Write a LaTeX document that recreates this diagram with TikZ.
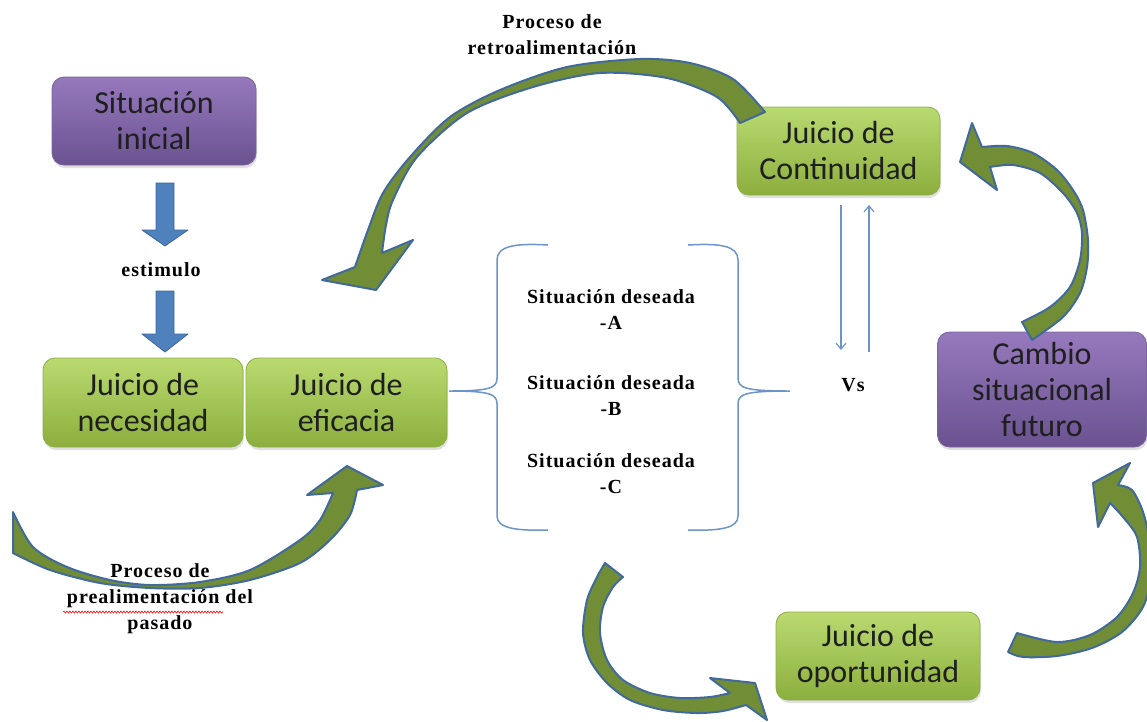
\documentclass[tikz,border=0pt]{standalone}
\usepackage{fontspec}
\newfontfamily\boxfont{Carlito}
\newfontfamily\labfont[LetterSpace=5]{Liberation Serif}
\usetikzlibrary{shadows,arrows.meta,decorations.pathmorphing}
\definecolor{gtop}{HTML}{BADA70}
\definecolor{gbot}{HTML}{8BAF3E}
\definecolor{gline}{HTML}{8DAE47}
\definecolor{ptop}{HTML}{9679BD}
\definecolor{pbot}{HTML}{6A5290}
\definecolor{arrfill}{HTML}{718D36}
\definecolor{arrline}{HTML}{41699B}
\definecolor{bluef}{HTML}{4F81BD}
\definecolor{bluel}{HTML}{3C6798}
\definecolor{thinb}{HTML}{6C94C8}
\tikzset{
  jbox/.style={rounded corners=12pt, draw=gline, line width=0.8pt,
    top color=gtop, bottom color=gbot, align=center,
    font=\boxfont\fontsize{32}{36}\selectfont, text=black!88, inner sep=0pt,
    drop shadow={opacity=0.25, shadow xshift=1pt, shadow yshift=-3pt}},
  pbox/.style={jbox, draw=pbot!90, top color=ptop, bottom color=pbot},
  lab/.style={font=\labfont\bfseries\fontsize{20}{26}\selectfont, align=center, inner sep=0pt},
  curvarr/.style={fill=arrfill, draw=arrline, line width=2pt, line join=round},
  bluearr/.style={fill=bluef, draw=bluel, line width=0.8pt, line join=round},
  thinarr/.style={draw=thinb, line width=1.2pt, -{Straight Barb[length=6pt,width=10pt]}},
  bracestyle/.style={draw=thinb, line width=1.5pt},
}
\begin{document}
\begin{tikzpicture}[x=1pt,y=-1pt]
\useasboundingbox (0,0) rectangle (1147,721);

% boxes
\node[pbox, minimum width=204pt, minimum height=88pt] (ini) at (154,121) {Situación\\inicial};
\node[jbox, minimum width=200pt, minimum height=89pt] (nec) at (143,402.5) {Juicio de\\necesidad};
\node[jbox, minimum width=201pt, minimum height=89pt] (efi) at (346.5,402.5) {Juicio de\\eficacia};
\node[jbox, minimum width=203pt, minimum height=88pt] (cont) at (838.5,151) {Juicio de\\Continuidad};
\node[pbox, minimum width=209pt, minimum height=115pt] (cam) at (1042,389.5) {Cambio\\situacional\\futuro};
\node[jbox, minimum width=204pt, minimum height=88pt] (opo) at (878,656) {Juicio de\\oportunidad};

% blue block arrows
\draw[bluearr] (156,183) -- (174,183) -- (174,230) -- (188,230) -- (165,246) -- (142,230) -- (156,230) -- cycle;
\draw[bluearr] (156,291) -- (174,291) -- (174,334) -- (188,334) -- (165,352) -- (142,334) -- (156,334) -- cycle;
\node[lab] (est) at (161,270) {estimulo};

% braces
\draw[bracestyle] (548,245) .. controls (515,243) and (497,246) .. (497,260) -- (497,378)
  .. controls (497,388) and (490,391) .. (449,391)
  .. controls (490,391) and (497,394) .. (497,404) -- (497,516)
  .. controls (497,528) and (515,531) .. (548,530);
\draw[bracestyle] (688,245) .. controls (721,243) and (738,246) .. (738,260) -- (738,378)
  .. controls (738,388) and (745,391) .. (790,391)
  .. controls (745,391) and (738,394) .. (738,404) -- (738,516)
  .. controls (738,528) and (721,531) .. (688,530);

\node[lab] (sa) at (611,309.5) {Situación deseada\\-A};
\node[lab] (sb) at (611,395.5) {Situación deseada\\-B};
\node[lab] (sc) at (611,474) {Situación deseada\\-C};
\node[lab] (vs) at (853,385) {Vs};

% thin arrows
\draw[thinarr] (841,205) -- (841,350);
\draw[thinarr] (869,352) -- (869,205);

% curved arrows
\draw[curvarr] plot[smooth] coordinates {(765,112) (733,79) (690,63) (640,59) (567,67) (500,90) (450,117) (410,157) (383,193) (368,230) (355,267)}
  -- (322,280) -- (376,290) -- (413,240) --
  plot[smooth] coordinates {(382,253) (386,225) (393,200) (417,157) (467,113) (533,87) (600,73) (667,78) (717,97) (740,123)} -- cycle;

\draw[curvarr] plot[smooth] coordinates {(13,553) (50,570) (100,583) (150,588) (200,588) (250,580) (300,563) (330,540) (350,515) (357,490)}
  -- (383,485) -- (347,466) -- (307,495) --
  plot[smooth] coordinates {(333,493) (320,520) (300,540) (250,570) (200,582) (150,585) (110,580) (67,567) (33,547) (13,512)} -- cycle;

\draw[curvarr] plot[smooth] coordinates {(1022,322) (1050,307) (1070,287) (1080,260) (1082,233) (1077,213) (1063,193) (1040,173) (1013,165) (990,167)}
  -- (997,190) -- (960,162) -- (972,123) --
  plot[smooth] coordinates {(982,147) (1007,146) (1033,153) (1057,170) (1073,190) (1083,210) (1088,240) (1087,267) (1080,293) (1063,317) (1032,340)} -- cycle;

\draw[curvarr] plot[smooth] coordinates {(1017,633) (1057,642) (1090,635) (1117,617) (1133,593) (1140,567) (1137,537) (1123,517) (1110,503)}
  -- (1098,527) -- (1093,483) -- (1130,463) --
  plot[smooth] coordinates {(1118,485) (1132,490) (1143,512) (1150,543) (1151,577) (1143,607) (1122,632) (1092,648) (1057,656) (1023,657) (1008,652)} -- cycle;

\draw[curvarr] plot[smooth] coordinates {(605,563) (597,577) (587,600) (583,633) (590,660) (607,683) (630,700) (663,710) (697,713) (723,711) (746,705)}
  -- (767,720) -- (755,683) -- (710,678) --
  plot[smooth] coordinates {(730,693) (710,697) (680,698) (650,693) (623,680) (607,660) (600,633) (603,607) (613,587) (623,577)} -- cycle;

% labels
\node[lab] (retro) at (552,35) {Proceso de\\retroalimentación};
\node[lab] (pre) at (160,599) {Proceso de\\prealimentación del\\pasado};
\draw[red, line width=0.6pt, decorate, decoration={snake, amplitude=1pt, segment length=3pt}] (63,612) -- (223,612);
\end{tikzpicture}
\end{document}
